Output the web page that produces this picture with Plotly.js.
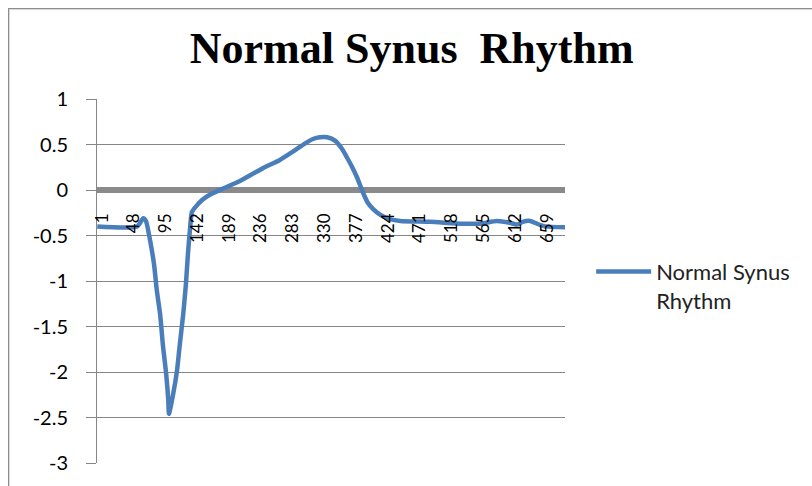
<!DOCTYPE html>
<html>
<head>
<meta charset="utf-8">
<script src="https://cdn.plot.ly/plotly-3.0.1.min.js"></script>
<style>
  html, body { margin: 0; padding: 0; background: #fff; overflow: hidden; }
  #wrap { position: relative; width: 812px; height: 486px; }
  #chart { width: 812px; height: 486px; }
  #frame { position: absolute; left: 8px; top: 8px; width: 900px; height: 600px;
           border-top: 1px solid #8c8c8c; border-left: 1px solid #8c8c8c;
           box-shadow: inset 1px 1px 1px #d8d8d8; pointer-events: none; }
</style>
</head>
<body>
<div id="wrap">
  <div id="chart"></div>
  <div id="frame"></div>
</div>
<script>
// Sample index along the recording (category number) and signal amplitude
const sampleIndex = [-6, 53, 62, 66, 72, 78, 82, 87, 91, 96, 99, 100, 106, 112, 116, 121, 125, 128, 131, 134,
  140, 149, 161, 178, 205, 239, 264, 283, 301, 313, 323, 334, 346, 356, 363, 371, 378, 387, 394, 402,
  412, 427, 442, 486, 535, 560, 585, 604, 615, 623, 634, 644, 656, 686];
const amplitude = [-0.40, -0.40, -0.31, -0.34, -0.55, -0.82, -1.10, -1.37, -1.70, -2.03, -2.31, -2.46, -2.25, -1.98, -1.70, -1.37, -1.04, -0.71, -0.44, -0.24,
  -0.18, -0.11, -0.05, 0.01, 0.10, 0.24, 0.33, 0.42, 0.51, 0.56, 0.58, 0.58, 0.54, 0.45, 0.36, 0.25, 0.14, -0.03, -0.14, -0.21,
  -0.27, -0.32, -0.34, -0.35, -0.37, -0.37, -0.34, -0.36, -0.38, -0.35, -0.34, -0.37, -0.40, -0.41];

const xTickVals = [1, 48, 95, 142, 189, 236, 283, 330, 377, 424, 471, 518, 565, 612, 659];
const xTickText = ["1", "48", "95", "142", "189", "236", "283", "330", "377", "424", "471", "518", "565", "612", "659"];
const yTickVals = [1, 0.5, 0, -0.5, -1, -1.5, -2, -2.5, -3];
const yTickText = ["1", "0.5", "0", "-0.5", "-1", "-1.5", "-2", "-2.5", "-3"];

const seriesName = "Normal Synus<br>Rhythm";
const chartTitle = "Normal Synus&nbsp;&nbsp;Rhythm";

const yMin = -3, yMax = 1;
const xMin = -6.4, xMax = 685.6;

const trace = {
  x: sampleIndex,
  y: amplitude,
  type: 'scatter',
  mode: 'lines',
  name: seriesName,
  line: { color: '#4A7EBB', width: 4.5, shape: 'spline', smoothing: 0.6 },
  showlegend: true
};

const layout = {
  width: 812,
  height: 486,
  paper_bgcolor: '#ffffff',
  plot_bgcolor: '#ffffff',
  margin: { l: 97, r: 247, t: 99, b: 23, pad: 0 },
  title: {
    text: chartTitle,
    font: { family: 'Liberation Serif, Times New Roman, serif', size: 44, color: '#000', weight: 'bold' },
    x: 0.507, xanchor: 'center', xref: 'container',
    y: 0.903, yanchor: 'middle', yref: 'container'
  },
  xaxis: {
    range: [xMin, xMax],
    anchor: 'free',
    position: (0 - yMin) / (yMax - yMin),
    tickmode: 'array',
    tickvals: xTickVals,
    ticktext: xTickText,
    tickangle: -90,
    ticks: '',
    showgrid: false,
    zeroline: false,
    showline: false,
    ticklabelstandoff: 19,
    tickfont: { family: 'Lato, Open Sans, sans-serif', size: 17, color: '#000' },
    fixedrange: true
  },
  yaxis: {
    range: [yMin, yMax],
    tickmode: 'array',
    tickvals: yTickVals,
    ticktext: yTickText,
    ticks: 'outside',
    ticklen: 10,
    tickcolor: '#868686',
    tickwidth: 1,
    showline: true,
    linecolor: '#868686',
    linewidth: 1,
    showgrid: true,
    gridcolor: '#868686',
    gridwidth: 1,
    zeroline: true,
    zerolinecolor: '#8a8a8a',
    zerolinewidth: 6,
    ticklabelstandoff: 14,
    tickfont: { family: 'Lato, Open Sans, sans-serif', size: 20, color: '#000' },
    fixedrange: true
  },
  showlegend: true,
  legend: {
    xref: 'container', yref: 'container',
    x: 0.728, xanchor: 'left',
    y: 0.484, yanchor: 'top',
    valign: 'top',
    itemwidth: 55,
    font: { family: 'Lato, Open Sans, sans-serif', size: 22, color: '#222' },
    bgcolor: 'rgba(0,0,0,0)',
    borderwidth: 0
  }
};

Plotly.newPlot('chart', [trace], layout, { staticPlot: true, displayModeBar: false });
</script>
</body>
</html>
